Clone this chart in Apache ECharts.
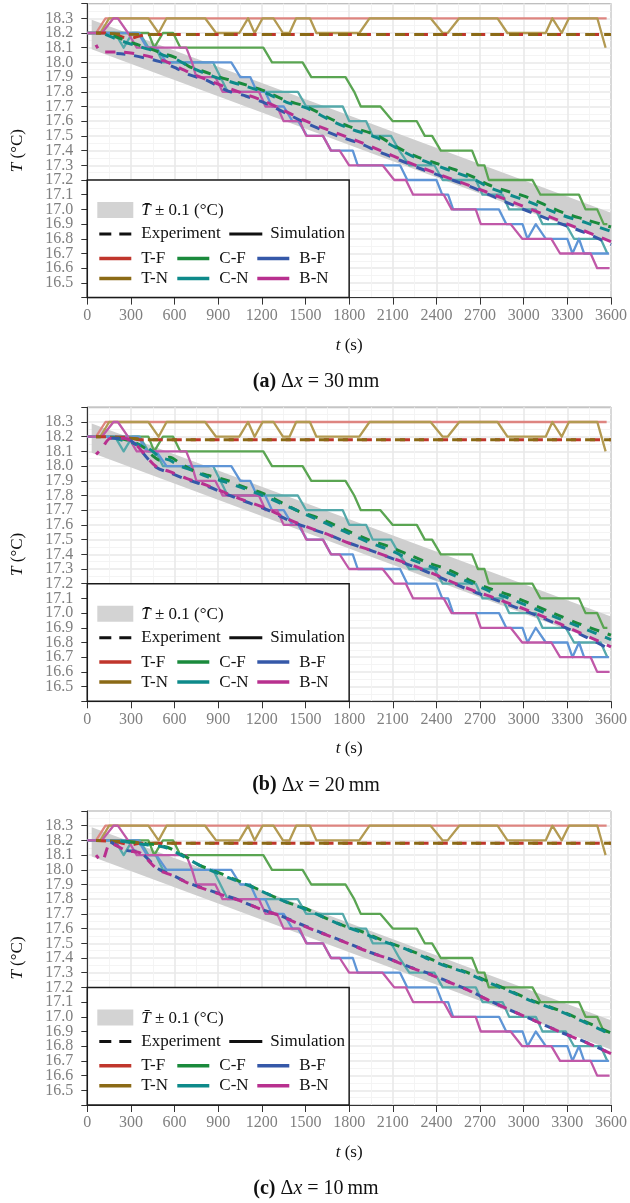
<!DOCTYPE html>
<html><head><meta charset="utf-8">
<script src="https://cdn.jsdelivr.net/npm/echarts@6/dist/echarts.min.js"></script>
<style>html,body{margin:0;padding:0;background:#fff}#c{width:630px;height:1203px}</style>
</head><body><div id="c"></div>
<script>
// ---------------- data ----------------
const xTickValues = [0,300,600,900,1200,1500,1800,2100,2400,2700,3000,3300,3600];
const yTickLabels = ['16.5','16.6','16.7','16.8','16.9','17.0','17.1','17.2','17.3','17.4','17.5','17.6','17.7','17.8','17.9','18.0','18.1','18.2','18.3'];
const panelCaptions = ['(a)', '(b)', '(c)'];
const panelSpacing = ['30', '20', '10'];
const seriesNames = ['T-F','T-N','C-F','C-N','B-F','B-N'];

// mean band (T-bar +/- 0.1)
const bandTime = [30, 3600];
const bandMean = [18.19, 16.877];
const bandHalfWidth = 0.1;

// stepwise (solid) curves, same in all panels: [t, T]
const solidTF = [[0,18.2],[60,18.2],[125,18.3],[3570,18.3]];
const solidTN = [[0,18.2],[90,18.2],[150,18.3],[420,18.3],[490,18.2],[545,18.3],[810,18.3],[885,18.2],[1045,18.2],[1105,18.3],[1150,18.2],[1205,18.3],[1280,18.3],[1345,18.2],[1390,18.2],[1436,18.3],[1530,18.3],[1575,18.2],[1870,18.2],[1940,18.3],[2360,18.3],[2443,18.2],[2477,18.2],[2557,18.3],[2820,18.3],[2888,18.2],[3151,18.2],[3197,18.3],[3261,18.2],[3311,18.3],[3506,18.3],[3563,18.1]];
const solidCF = [[0,18.2],[420,18.2],[460,18.1],[520,18.2],[590,18.2],[640,18.1],[1210,18.1],[1270,18.0],[1480,18.0],[1540,17.9],[1775,17.9],[1835,17.8],[1880,17.7],[2015,17.7],[2100,17.6],[2265,17.6],[2320,17.5],[2370,17.5],[2430,17.4],[2645,17.4],[2685,17.3],[2730,17.3],[2760,17.2],[3060,17.2],[3115,17.1],[3380,17.1],[3425,17.0],[3505,17.0],[3550,16.9],[3575,16.9]];
const solidCN = [[0,18.2],[190,18.2],[250,18.1],[310,18.2],[360,18.2],[420,18.1],[470,18.1],[520,18.0],[865,18.0],[915,17.9],[965,17.8],[1447,17.8],[1505,17.7],[1756,17.7],[1801,17.6],[1917,17.6],[1962,17.5],[2088,17.5],[2145,17.4],[2214,17.3],[2386,17.3],[2443,17.2],[2671,17.2],[2717,17.1],[2854,17.1],[2900,17.0],[3083,17.0],[3129,16.9],[3289,16.9],[3346,16.8],[3529,16.8],[3575,16.7]];
const solidBF = [[0,18.2],[350,18.2],[410,18.1],[475,18.1],[545,18.0],[990,18.0],[1052,17.9],[1120,17.9],[1166,17.8],[1223,17.8],[1270,17.7],[1350,17.7],[1410,17.6],[1450,17.6],[1510,17.5],[1620,17.5],[1676,17.4],[1825,17.4],[1859,17.3],[2150,17.3],[2200,17.2],[2400,17.2],[2440,17.1],[2480,17.1],[2515,17.0],[2830,17.0],[2880,16.9],[2992,16.9],[3026,16.8],[3083,16.9],[3152,16.8],[3300,16.8],[3335,16.7],[3380,16.8],[3415,16.7],[3586,16.7]];
const solidBN = [[0,18.2],[100,18.2],[180,18.3],[210,18.3],[280,18.2],[340,18.1],[680,18.1],[720,18.0],[750,17.9],[880,17.9],[930,17.8],[1180,17.8],[1225,17.7],[1305,17.7],[1350,17.6],[1460,17.6],[1505,17.5],[1620,17.5],[1675,17.4],[1735,17.4],[1800,17.3],[2030,17.3],[2110,17.2],[2190,17.2],[2240,17.1],[2450,17.1],[2505,17.0],[2670,17.0],[2705,16.9],[2910,16.9],[2990,16.8],[3190,16.8],[3250,16.7],[3460,16.7],[3505,16.6],[3590,16.6]];

// smooth (dashed) curves, per panel
const dashA_TF = [[60,18.2],[150,18.2],[250,18.17],[300,18.165],[360,18.18],[420,18.19],[3600,18.19]];
const dashA_TN = [[60,18.2],[400,18.19],[3600,18.19]];
const dashA_CF = [[120,18.2],[224,18.164],[316,18.13],[453,18.085],[521,18.06],[613,18.03],[704,17.97],[796,17.94],[910,17.90],[1047,17.86],[1207,17.81],[1367,17.74],[1505,17.70],[1665,17.62],[1802,17.563],[1985,17.506],[2122,17.427],[2260,17.36],[2397,17.314],[2534,17.268],[2648,17.223],[2762,17.166],[2900,17.12],[3014,17.087],[3266,16.98],[3426,16.93],[3600,16.88]];
const dashA_CN = [[100,18.2],[224,18.15],[316,18.12],[453,18.08],[521,18.05],[613,18.02],[704,17.97],[796,17.93],[910,17.89],[1047,17.85],[1207,17.80],[1367,17.73],[1505,17.69],[1665,17.61],[1802,17.55],[1985,17.49],[2122,17.42],[2260,17.35],[2397,17.30],[2534,17.25],[2648,17.21],[2762,17.15],[2900,17.10],[3014,17.06],[3266,16.96],[3426,16.91],[3600,16.85]];
const dashA_BF = [[200,18.06],[300,18.05],[498,18.005],[613,17.96],[704,17.915],[819,17.88],[956,17.81],[1093,17.77],[1230,17.72],[1367,17.654],[1505,17.586],[1734,17.495],[1871,17.45],[2008,17.39],[2145,17.336],[2282,17.28],[2443,17.223],[2603,17.166],[2740,17.11],[2877,17.05],[3152,16.94],[3426,16.84],[3600,16.76]];
const dashA_BN = [[60,18.12],[100,18.07],[220,18.07],[500,18.02],[704,17.93],[956,17.83],[1230,17.73],[1505,17.6],[1871,17.46],[2282,17.29],[2740,17.12],[3152,16.96],[3600,16.78]];

const dashB_TF = [[60,18.2],[270,18.195],[360,18.18],[3600,18.18]];
const dashB_TN = [[60,18.2],[300,18.19],[400,18.18],[3600,18.18]];
const dashB_CF = [[150,18.2],[300,18.17],[400,18.12],[450,18.07],[498,18.04],[567,18.06],[636,18.02],[727,17.97],[819,17.94],[956,17.905],[1070,17.86],[1207,17.815],[1344,17.747],[1459,17.69],[1596,17.645],[1802,17.554],[1939,17.497],[2076,17.452],[2214,17.395],[2351,17.339],[2488,17.293],[2625,17.225],[2763,17.168],[2900,17.123],[3200,17.0],[3400,16.92],[3600,16.85]];
const dashB_CN = [[150,18.2],[300,18.16],[400,18.13],[450,18.10],[498,18.06],[567,18.04],[636,18.00],[727,17.97],[819,17.93],[956,17.89],[1070,17.85],[1207,17.80],[1344,17.74],[1459,17.69],[1596,17.63],[1802,17.54],[1939,17.48],[2076,17.43],[2214,17.37],[2351,17.32],[2488,17.27],[2625,17.21],[2763,17.15],[2900,17.10],[3200,16.98],[3400,16.90],[3600,16.82]];
const dashB_BF = [[160,18.19],[250,18.19],[330,18.15],[407,18.06],[476,17.99],[567,17.955],[681,17.91],[819,17.865],[956,17.81],[1070,17.765],[1230,17.705],[1367,17.64],[1505,17.585],[1665,17.53],[1802,17.475],[1939,17.43],[2099,17.37],[2260,17.31],[2397,17.255],[2534,17.195],[2671,17.14],[2808,17.09],[3100,16.98],[3400,16.85],[3600,16.75]];
const dashB_BN = [[60,18.08],[100,18.12],[160,18.19],[250,18.19],[330,18.15],[407,18.064],[476,17.996],[567,17.962],[681,17.917],[819,17.871],[956,17.815],[1070,17.77],[1230,17.713],[1367,17.645],[1505,17.588],[1665,17.531],[1802,17.475],[1939,17.43],[2099,17.373],[2260,17.316],[2397,17.26],[2534,17.2],[2671,17.147],[2808,17.1],[3100,16.99],[3400,16.86],[3600,16.77]];

const dashC_TF = [[60,18.2],[200,18.19],[300,18.17],[360,18.18],[3600,18.18]];
const dashC_TN = [[60,18.2],[300,18.19],[400,18.18],[3600,18.18]];
const dashC_CF = [[200,18.2],[407,18.178],[544,18.155],[681,18.087],[773,18.03],[864,17.996],[1001,17.94],[1139,17.883],[1344,17.79],[1505,17.735],[1596,17.69],[1757,17.622],[1894,17.577],[2031,17.52],[2191,17.463],[2328,17.407],[2465,17.35],[2603,17.305],[2763,17.237],[2900,17.18],[3060,17.11],[3243,17.044],[3403,16.976],[3600,16.89]];
const dashC_CN = [[200,18.2],[407,18.17],[544,18.15],[681,18.08],[773,18.03],[864,17.99],[1001,17.935],[1139,17.88],[1344,17.79],[1505,17.73],[1596,17.69],[1757,17.62],[1894,17.57],[2031,17.515],[2191,17.46],[2328,17.40],[2465,17.345],[2603,17.30],[2763,17.23],[2900,17.175],[3060,17.105],[3243,17.04],[3403,16.97],[3600,16.88]];
const dashC_BF = [[160,18.19],[270,18.132],[361,18.12],[487,18.007],[590,17.962],[681,17.917],[773,17.883],[910,17.837],[1047,17.792],[1184,17.735],[1322,17.69],[1459,17.633],[1596,17.577],[1802,17.497],[1939,17.44],[2076,17.395],[2214,17.339],[2351,17.293],[2488,17.236],[2625,17.18],[2763,17.11],[3060,16.98],[3243,16.9],[3426,16.828],[3600,16.75]];
const dashC_BN = [[60,18.1],[100,18.06],[160,18.18],[270,18.13],[361,18.115],[487,18.0],[590,17.96],[681,17.915],[773,17.88],[910,17.835],[1047,17.79],[1184,17.735],[1322,17.688],[1459,17.63],[1596,17.575],[1802,17.495],[1939,17.44],[2076,17.393],[2214,17.338],[2351,17.29],[2488,17.235],[2625,17.178],[2763,17.11],[3060,16.98],[3243,16.9],[3426,16.826],[3600,16.75]];

const solidData = [solidTF, solidTN, solidCF, solidCN, solidBF, solidBN];
const dashData = [
  [dashA_TF, dashA_TN, dashA_CF, dashA_CN, dashA_BF, dashA_BN],
  [dashB_TF, dashB_TN, dashB_CF, dashB_CN, dashB_BF, dashB_BN],
  [dashC_TF, dashC_TN, dashC_CF, dashC_CN, dashC_BF, dashC_BN]
];

// ---------------- style ----------------
const FONT = "'Liberation Serif','Times New Roman',serif";
const dashColor  = ['#c0362c','#8b6a16','#1a8a3c','#0e8a8a','#3558a8','#b8308f'];
const solidColor = ['#de8580','#b39a52','#5aa552','#55a9aa','#5f95d6','#c058a8'];
const bandColor = '#cfcfcf';
const PANEL_DY = 403.7;
const GRID_TOP = 3.6, GRID_H = 294, GRID_L = 87.3, GRID_R = 18;

const grids = [], xAxes = [], yAxes = [], series = [];
for (let p = 0; p < 3; p++) {
  grids.push({left: GRID_L, right: GRID_R, top: GRID_TOP + p * PANEL_DY, height: GRID_H,
    show: true, borderColor: '#333', borderWidth: 1, backgroundColor: '#fff', containLabel: false});
  xAxes.push({type: 'value', gridIndex: p, min: 0, max: 3600, interval: 300,
    axisLine: {show: true, lineStyle: {color: '#333', width: 1}},
    axisTick: {show: true, length: 7, lineStyle: {color: '#333', width: 1}},
    axisLabel: {color: '#7f7f7f', fontFamily: FONT, fontSize: 16, margin: 10,
      formatter: v => String(Math.round(v))},
    splitLine: {show: true, lineStyle: {color: '#e9e9e9', width: 1.6}},
    minorTick: {show: false, splitNumber: 2},
    minorSplitLine: {show: true, lineStyle: {color: '#f3f3f3', width: 0.9}}
  });
  yAxes.push({type: 'value', gridIndex: p, min: 16.4, max: 18.4, interval: 0.1,
    axisLine: {show: true, lineStyle: {color: '#333', width: 1}},
    axisTick: {show: true, length: 6, lineStyle: {color: '#333', width: 1}},
    axisLabel: {color: '#7f7f7f', fontFamily: FONT, fontSize: 16, margin: 14,
      showMinLabel: true, showMaxLabel: true, hideOverlap: false,
      formatter: v => { const s = v.toFixed(1); return yTickLabels.indexOf(s) >= 0 ? s : ''; }},
    splitLine: {show: true, lineStyle: {color: '#e9e9e9', width: 1.6}},
    minorTick: {show: false, splitNumber: 2},
    minorSplitLine: {show: true, lineStyle: {color: '#f3f3f3', width: 0.9}}
  });
  // band as polygon through axis scales
  series.push({type: 'custom', xAxisIndex: p, yAxisIndex: p, data: [[bandTime[0], bandMean[0]]], silent: true, z: 1,
    renderItem: (params, api) => {
      const upper = bandTime.map((t, i) => api.coord([t, bandMean[i] + bandHalfWidth]));
      const lower = bandTime.map((t, i) => api.coord([t, bandMean[i] - bandHalfWidth])).reverse();
      return {type: 'polygon', shape: {points: upper.concat(lower)}, style: {fill: bandColor}};
    }});
  // solid
  solidData.forEach((d, k) => series.push({type: 'line', name: seriesNames[k], xAxisIndex: p, yAxisIndex: p,
    data: d, symbol: 'none', silent: true, z: 2,
    lineStyle: {color: solidColor[k], width: 2.3, join: 'round'}}));
  // dashed
  dashData[p].forEach((d, k) => series.push({type: 'line', name: seriesNames[k], xAxisIndex: p, yAxisIndex: p,
    data: d, symbol: 'none', silent: true, z: 3, smooth: 0.3,
    lineStyle: {color: dashColor[k], width: 3, type: [10, 9], dashOffset: k * 5}}));
}

const chart = echarts.init(document.getElementById('c'), null, {renderer: 'canvas', width: 630, height: 1203});
chart.setOption({animation: false, backgroundColor: '#fff', grid: grids, xAxis: xAxes, yAxis: yAxes, series: series});

// ---------------- annotations / legends ----------------
const graphics = [];
const Z = 100;
const LF = '17px ' + FONT;
for (let p = 0; p < 3; p++) {
  const tl = chart.convertToPixel({gridIndex: p}, [0, 17.2]);
  const br = chart.convertToPixel({gridIndex: p}, [1800, 16.4]);
  const midX = chart.convertToPixel({gridIndex: p}, [1800, 17.0])[0];
  const yTop = chart.convertToPixel({gridIndex: p}, [0, 18.4])[1];
  const yBot = br[1];
  const x0 = tl[0], y0 = tl[1];
  graphics.push({type: 'rect', z: Z, shape: {x: x0, y: y0, width: br[0] - x0, height: br[1] - y0},
    style: {fill: '#fff', stroke: '#1a1a1a', lineWidth: 1.5}});
  graphics.push({type: 'rect', z: Z + 1, shape: {x: x0 + 10, y: y0 + 22, width: 36, height: 16}, style: {fill: '#d3d3d3'}});
  graphics.push({type: 'text', z: Z + 1, x: x0 + 54, y: y0 + 31, style: {text: '{i|T\u0304} \u00b1 0.1 (\u00b0C)', font: LF,
    fill: '#111', verticalAlign: 'middle', rich: {i: {font: 'italic ' + LF, fill: '#111'}}}});
  graphics.push({type: 'line', z: Z + 1, shape: {x1: x0 + 12, y1: y0 + 54, x2: x0 + 44, y2: y0 + 54}, style: {stroke: '#111', lineWidth: 3, lineDash: [12, 8]}});
  graphics.push({type: 'text', z: Z + 1, x: x0 + 54, y: y0 + 54, style: {text: 'Experiment', font: LF, fill: '#111', verticalAlign: 'middle'}});
  graphics.push({type: 'line', z: Z + 1, shape: {x1: x0 + 142, y1: y0 + 54, x2: x0 + 175, y2: y0 + 54}, style: {stroke: '#111', lineWidth: 3}});
  graphics.push({type: 'text', z: Z + 1, x: x0 + 183, y: y0 + 54, style: {text: 'Simulation', font: LF, fill: '#111', verticalAlign: 'middle'}});
  const colX = [12, 90, 170];
  const rowY = [78.4, 98.4];
  const order = [[0, 2, 4], [1, 3, 5]];
  for (let r = 0; r < 2; r++) for (let c = 0; c < 3; c++) {
    const k = order[r][c];
    graphics.push({type: 'line', z: Z + 1, shape: {x1: x0 + colX[c], y1: y0 + rowY[r], x2: x0 + colX[c] + 32, y2: y0 + rowY[r]},
      style: {stroke: dashColor[k], lineWidth: 3.5}});
    graphics.push({type: 'text', z: Z + 1, x: x0 + colX[c] + 42, y: y0 + rowY[r], style: {text: seriesNames[k], font: LF,
      fill: '#111', verticalAlign: 'middle'}});
  }
  // axis titles
  graphics.push({type: 'text', x: 18, y: (yTop + yBot) / 2, rotation: Math.PI / 2, z: Z,
    style: {text: '{i|T} (\u00b0C)', font: '17px ' + FONT, fill: '#111', align: 'center', verticalAlign: 'middle',
      rich: {i: {font: 'italic 17px ' + FONT, fill: '#111'}}}});
  graphics.push({type: 'text', x: midX, y: yBot + 47.5, z: Z,
    style: {text: '{i|t} (s)', font: '17px ' + FONT, fill: '#111', align: 'center', verticalAlign: 'middle',
      rich: {i: {font: 'italic 17px ' + FONT, fill: '#111'}}}});
  graphics.push({type: 'text', x: 316, y: yBot + 84, z: Z,
    style: {text: '{b|' + panelCaptions[p] + '} \u0394{i|x} = ' + panelSpacing[p] + '\u2009mm', font: '20px ' + FONT,
      fill: '#111', align: 'center', verticalAlign: 'middle',
      rich: {b: {font: 'bold 20px ' + FONT, fill: '#111'}, i: {font: 'italic 20px ' + FONT, fill: '#111'}}}});
}
chart.setOption({graphic: {elements: graphics}});
</script></body></html>
